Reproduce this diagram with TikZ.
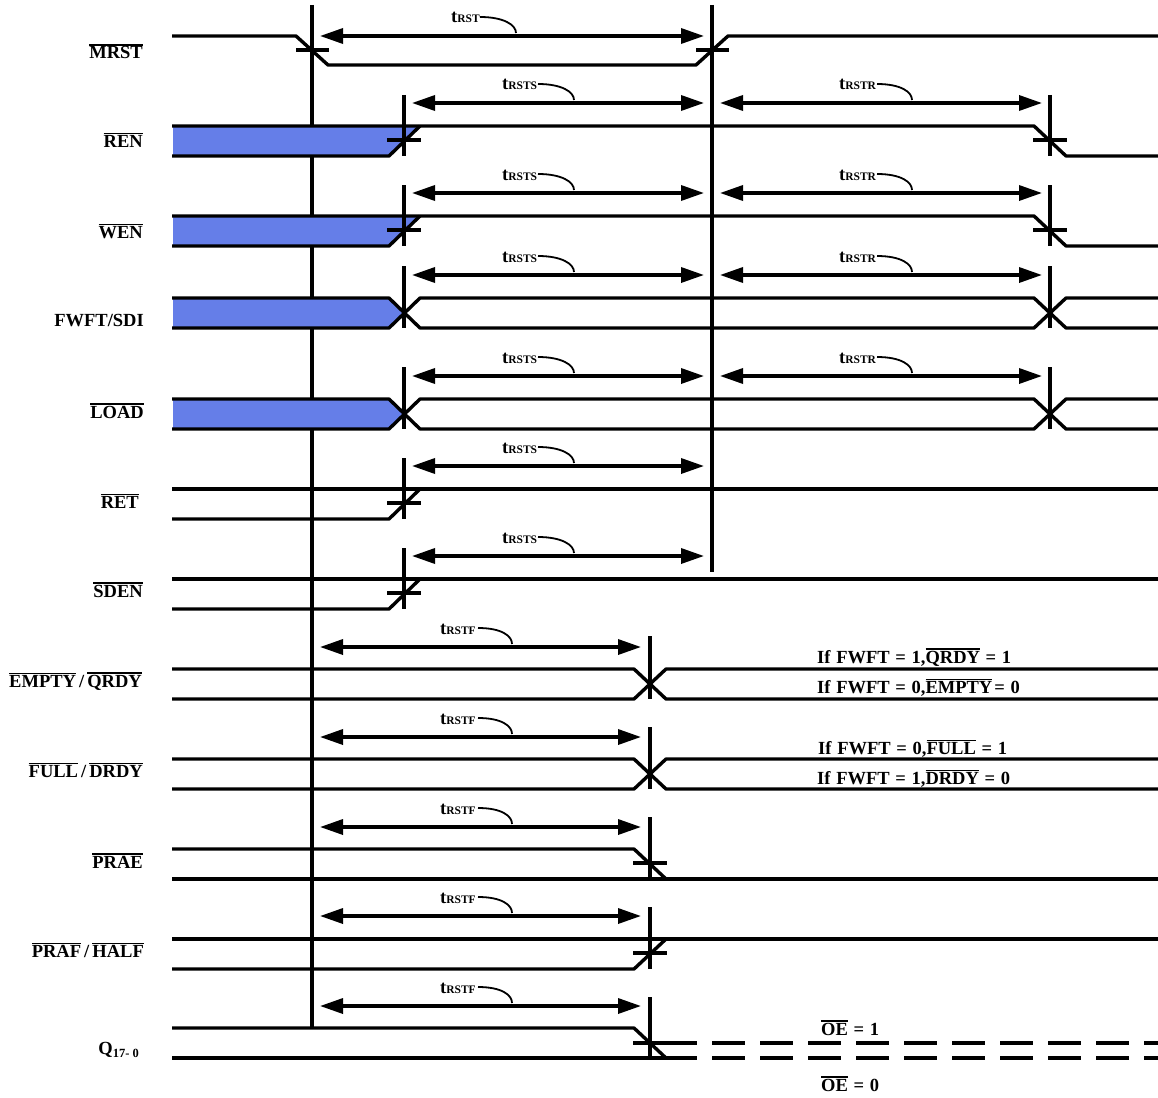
\documentclass[tikz,border=0pt]{standalone}
\usepackage{fontspec}
\setmainfont{Liberation Serif}
\usetikzlibrary{arrows.meta}
\definecolor{busfill}{HTML}{657EE8}
\newcommand{\ovl}[1]{\vbox{\hrule height 1.1pt\kern 1.2pt\hbox{#1}}}
\newcommand{\tlab}[1]{\fontsize{18.5}{20}\selectfont t\fontsize{11.5}{13}\selectfont #1}
\newcommand{\wsp}{\spaceskip=5.7pt\relax}
\tikzset{
  wave/.style={line width=3.4pt,line join=round},
  span/.style={line width=3.4pt,{Triangle[length=23pt,width=15pt]}-{Triangle[length=23pt,width=15pt]}},
  leader/.style={line width=1.8pt},
  siglabel/.style={anchor=base east,inner sep=0pt,font=\bfseries\fontsize{18.5}{20}\selectfont},
  note/.style={anchor=base west,inner sep=0pt,font=\bfseries\fontsize{18.5}{20}\selectfont},
  timelabel/.style={anchor=base west,inner sep=0pt,font=\bfseries},
  buspoly/.style={fill=busfill,draw=none},
  dashline/.style={line width=3.4pt,dash pattern=on 33pt off 15pt}
}
% #1 left x, #2 right x, #3 arrow y, #4 label text, #5 label x, #6 leader start x, #7 leader end x
\newcommand{\tspan}[7]{%
  \draw[span] (#1,#3) -- (#2,#3);
  \node[timelabel] at (#5,#3-13) {\tlab{#4}};
  \draw[leader] (#6,#3-19) .. controls (#6+24,#3-19) and (#7,#3-11) .. (#7,#3-3);
}
\newcommand{\tickv}[4]{% x, top y, bottom y, tick y (or none)
  \draw[wave] (#1,#2) -- (#1,#3);
  \draw[wave] (#1-17,#4) -- (#1+17,#4);
}
\begin{document}
\begin{tikzpicture}[x=1pt,y=-1pt]
\useasboundingbox (0,0) rectangle (1158,1097);
% long verticals
\draw[wave] (312,5) -- (312,1027);
\draw[wave] (712,5) -- (712,572);
% bus fills
\fill[buspoly] (173,126) -- (420,126) -- (390,156) -- (173,156) -- cycle;
\fill[buspoly] (173,216) -- (420,216) -- (390,246) -- (173,246) -- cycle;
\fill[buspoly] (173,298) -- (390,298) -- (404,313) -- (390,328) -- (173,328) -- cycle;
\fill[buspoly] (173,399) -- (390,399) -- (404,414) -- (390,429) -- (173,429) -- cycle;
% MRST
\draw[wave] (172,36) -- (296,36) -- (328,65) -- (696,65) -- (728,36) -- (1158,36);
\draw[wave] (296,50) -- (329,50);
\draw[wave] (696,50) -- (729,50);
\tspan{320}{704}{36}{RST}{451}{480}{516}
% REN
\draw[wave] (172,126) -- (1034,126) -- (1066,156) -- (1158,156);
\draw[wave] (172,156) -- (389,156) -- (420,126);
\tickv{404}{95}{156}{140}
\tickv{1050}{95}{156}{140}
\tspan{412}{704}{103}{RSTS}{502}{538}{574}
\tspan{720}{1042}{103}{RSTR}{839}{877}{912}
% WEN
\draw[wave] (172,216) -- (1034,216) -- (1066,246) -- (1158,246);
\draw[wave] (172,246) -- (389,246) -- (420,216);
\tickv{404}{185}{246}{230}
\tickv{1050}{185}{246}{230}
\tspan{412}{704}{193}{RSTS}{502}{538}{574}
\tspan{720}{1042}{193}{RSTR}{839}{877}{912}
% FWFT/SDI
\draw[wave] (172,298) -- (389,298) -- (420,328) -- (1034,328) -- (1066,298) -- (1158,298);
\draw[wave] (172,328) -- (389,328) -- (420,298) -- (1034,298) -- (1066,328) -- (1158,328);
\draw[wave] (404,266) -- (404,328);
\draw[wave] (1050,266) -- (1050,328);
\tspan{412}{704}{275}{RSTS}{502}{538}{574}
\tspan{720}{1042}{275}{RSTR}{839}{877}{912}
% LOAD
\draw[wave] (172,399) -- (389,399) -- (420,429) -- (1034,429) -- (1066,399) -- (1158,399);
\draw[wave] (172,429) -- (389,429) -- (420,399) -- (1034,399) -- (1066,429) -- (1158,429);
\draw[wave] (404,367) -- (404,429);
\draw[wave] (1050,367) -- (1050,429);
\tspan{412}{704}{376}{RSTS}{502}{538}{574}
\tspan{720}{1042}{376}{RSTR}{839}{877}{912}
% RET
\draw[wave] (172,489) -- (1158,489);
\draw[wave] (172,519) -- (389,519) -- (420,489);
\tickv{404}{458}{519}{503}
\tspan{412}{704}{466}{RSTS}{502}{538}{574}
% SDEN
\draw[wave] (172,579) -- (1158,579);
\draw[wave] (172,609) -- (389,609) -- (420,579);
\tickv{404}{548}{609}{593}
\tspan{412}{704}{556}{RSTS}{502}{538}{574}
% EMPTY/QRDY
\draw[wave] (172,669) -- (634,669) -- (666,699) -- (1158,699);
\draw[wave] (172,699) -- (634,699) -- (666,669) -- (1158,669);
\draw[wave] (650,636) -- (650,699);
\tspan{320}{641}{647}{RSTF}{440}{478}{512}
% FULL/DRDY
\draw[wave] (172,759) -- (634,759) -- (666,789) -- (1158,789);
\draw[wave] (172,789) -- (634,789) -- (666,759) -- (1158,759);
\draw[wave] (650,727) -- (650,789);
\tspan{320}{641}{737}{RSTF}{440}{478}{512}
% PRAE
\draw[wave] (172,849) -- (634,849) -- (666,879);
\draw[wave] (172,879) -- (1158,879);
\tickv{650}{817}{879}{863}
\tspan{320}{641}{827}{RSTF}{440}{478}{512}
% PRAF/HALF
\draw[wave] (172,939) -- (1158,939);
\draw[wave] (172,969) -- (634,969) -- (666,939);
\tickv{650}{907}{969}{953}
\tspan{320}{641}{916}{RSTF}{440}{478}{512}
% Q
\draw[wave] (172,1028) -- (634,1028) -- (666,1058);
\draw[wave] (172,1058) -- (697,1058);
\draw[wave] (633,1043) -- (697,1043);
\draw[wave] (650,997) -- (650,1058);
\draw[dashline] (712,1043) -- (1158,1043);
\draw[dashline] (712,1058) -- (1158,1058);
\tspan{320}{641}{1006}{RSTF}{440}{478}{512}
% signal labels
\node[siglabel] (mrst) at (143,59) {\ovl{MRST}};
\node[siglabel] (ren) at (143,147) {\ovl{REN}};
\node[siglabel] (wen) at (143,238) {\ovl{WEN}};
\node[siglabel] (fwft) at (144,326) {FWFT/SDI};
\node[siglabel] (load) at (144,418) {\ovl{LOAD}};
\node[siglabel] (ret) at (139,508) {\ovl{RET}};
\node[siglabel] (sden) at (143,597) {\ovl{SDEN}};
\node[siglabel] (empty) at (142,687) {\ovl{EMPTY}\,/\,\ovl{QRDY}};
\node[siglabel] (full) at (143,777) {\ovl{FULL}\,/\,\ovl{DRDY}};
\node[siglabel] (prae) at (143,868) {\ovl{PRAE}};
\node[siglabel] (praf) at (144,957) {\ovl{PRAF}\,/\,\ovl{HALF}};
\node[siglabel] (q) at (139,1054) {Q\raisebox{-3.5pt}{\fontsize{12.5}{14}\selectfont 17- 0}};
% notes
\node[note] (n1) at (817,663) {\wsp If FWFT = 1,\ovl{QRDY} = 1};
\node[note] (n2) at (817,693) {\wsp If FWFT = 0,\ovl{EMPTY}\kern 2pt= 0};
\node[note] (n3) at (818,754) {\wsp If FWFT = 0,\ovl{FULL} = 1};
\node[note] (n4) at (817,784) {\wsp If FWFT = 1,\ovl{DRDY} = 0};
\node[note] (n5) at (821,1035) {\wsp \ovl{OE} = 1};
\node[note] (n6) at (821,1091) {\wsp \ovl{OE} = 0};
\end{tikzpicture}
\end{document}
